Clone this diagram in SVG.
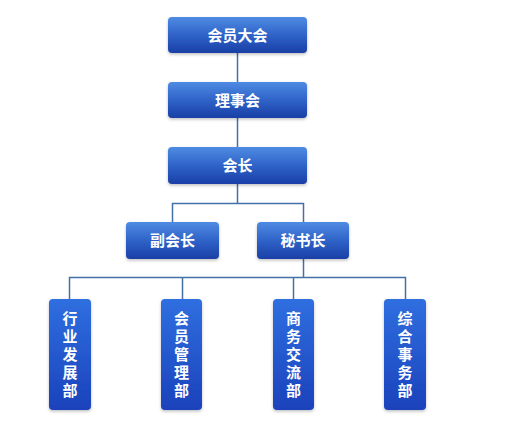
<svg xmlns="http://www.w3.org/2000/svg" width="508" height="442" viewBox="0 0 508 442">
<defs>
<linearGradient id="g1" x1="0" y1="0" x2="0" y2="1">
<stop offset="0" stop-color="#4f8be3"/>
<stop offset="0.5" stop-color="#2f63c8"/>
<stop offset="1" stop-color="#1a3fa6"/>
</linearGradient>
<linearGradient id="g2" x1="0" y1="0" x2="0" y2="1">
<stop offset="0" stop-color="#2f6fe0"/>
<stop offset="1" stop-color="#1a42bb"/>
</linearGradient>
<filter id="sh" x="-20%" y="-20%" width="140%" height="150%">
<feDropShadow dx="0" dy="1.5" stdDeviation="1.5" flood-color="#000" flood-opacity="0.25"/>
</filter>
</defs>
<style>
.b{fill:url(#g1);filter:url(#sh)}
.v{fill:url(#g2);filter:url(#sh)}
.t{font-family:"Noto Sans CJK SC","Noto Sans CJK JP",sans-serif;font-weight:bold;font-size:15px;fill:#fff;text-anchor:middle}
.vt{font-family:"Noto Sans CJK SC","Noto Sans CJK JP",sans-serif;font-weight:bold;font-size:15px;fill:#fff;text-anchor:middle;writing-mode:vertical-rl;letter-spacing:3px}
.c{stroke:#4470a8;stroke-width:1.5;fill:none}
</style>
<rect width="508" height="442" fill="#fff"/>
<g id="connectors">
<path class="c" d="M237.5 53V82M237.5 118V147M237.5 184V203.5M172.5 222V203.5H303.5V222M303.5 259V277.5M69.5 299V277.5H405.5V299M182.5 277.5V299M293.5 277.5V299"/>
</g>
<g id="n1"><rect class="b" x="168" y="17" width="139" height="36" rx="4"/><text class="t" x="237.5" y="40.5">会员大会</text></g>
<g id="n2"><rect class="b" x="168" y="82" width="139" height="36" rx="4"/><text class="t" x="237.5" y="105.5">理事会</text></g>
<g id="n3"><rect class="b" x="168" y="147" width="139" height="37" rx="4"/><text class="t" x="237.5" y="171">会长</text></g>
<g id="n4"><rect class="b" x="126" y="222" width="93" height="37" rx="4"/><text class="t" x="172.5" y="246">副会长</text></g>
<g id="n5"><rect class="b" x="257" y="222" width="92" height="37" rx="4"/><text class="t" x="303" y="246">秘书长</text></g>
<g id="n6"><rect class="v" x="49" y="299" width="42" height="111" rx="4"/><text class="vt" x="70" y="356">行业发展部</text></g>
<g id="n7"><rect class="v" x="161" y="299" width="41" height="111" rx="4"/><text class="vt" x="181.5" y="356">会员管理部</text></g>
<g id="n8"><rect class="v" x="273" y="299" width="41" height="111" rx="4"/><text class="vt" x="293.5" y="356">商务交流部</text></g>
<g id="n9"><rect class="v" x="384" y="299" width="42" height="111" rx="4"/><text class="vt" x="405" y="356">综合事务部</text></g>
</svg>
